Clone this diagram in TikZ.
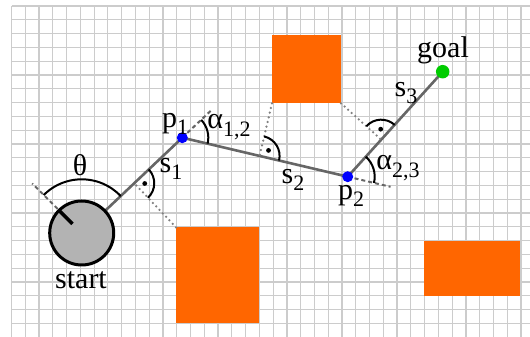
\documentclass[tikz,border=0pt]{standalone}
\usepackage{fontspec}
\setmainfont{Liberation Serif}
\usetikzlibrary{calc}
\definecolor{obst}{HTML}{FF6600}
\definecolor{gridc}{HTML}{CCCCCC}
\definecolor{pathc}{HTML}{666666}
\definecolor{dotc}{HTML}{808080}
\definecolor{goalc}{HTML}{00CC00}
\definecolor{robotc}{HTML}{B3B3B3}
\newcommand{\lsub}[1]{\raisebox{-0.25em}{\fontsize{22}{22}\selectfont #1}}
\pgfdeclarelayer{gridlayer}
\pgfdeclarelayer{seglayer}
\pgfsetlayers{gridlayer,seglayer,main}
\tikzset{
  gridline/.style={draw=gridc, line width=1.2pt},
  segline/.style={draw=pathc, line width=2.6pt},
  extline/.style={draw=pathc, line width=2pt, dash pattern=on 4pt off 3pt},
  dotline/.style={draw=dotc, line width=2.5pt, line cap=round, dash pattern=on 0pt off 4.8pt},
  marc/.style={draw=black, line width=2pt},
  bluedot/.style={circle, fill=blue, inner sep=0pt, minimum size=11pt},
  greendot/.style={circle, fill=goalc, inner sep=0pt, minimum size=13.5pt},
  robot/.style={circle, draw=black, fill=robotc, line width=3pt, inner sep=0pt, minimum size=64pt},
  lbl/.style={inner sep=0pt, font=\fontsize{30}{32}\selectfont},
  obstacle/.style={fill=obst}
}
\begin{document}
\begin{tikzpicture}[x=1pt,y=1pt]
\begin{pgfonlayer}{gridlayer}
\useasboundingbox (0,0) rectangle (530,337);
\fill[white] (0,0) rectangle (530,337);
\foreach \i in {0,...,37} \draw[gridline] ({11.5+13.77*\i},0) -- ({11.5+13.77*\i},331);
\foreach \j in {0,...,23} \draw[gridline] (11.5,{331-13.8*\j}) -- (530,{331-13.8*\j});
\end{pgfonlayer}
% obstacles
\fill[obstacle] (272,233.7) rectangle (341,302.3);
\fill[obstacle] (176,13.7) rectangle (259,109.7);
\fill[obstacle] (423.7,41.3) rectangle (520,96.3);
\coordinate (Bc) at (176,109.7);
\coordinate (Al) at (272,233.7);
\coordinate (Ar) at (341,233.7);
% key points
\coordinate (C) at (81.7,104);
\coordinate (P1) at (182.3,199.3);
\coordinate (P2) at (347.7,160.3);
\coordinate (G) at (442.7,265.3);
\coordinate (F1) at ($(C)!(Bc)!(P1)$);
\coordinate (F2) at ($(P1)!(Al)!(P2)$);
\coordinate (F3) at ($(P2)!(Ar)!(G)$);
% dotted distances
\draw[dotline] (Bc) -- (F1);
\draw[dotline] (Al) -- (F2);
\draw[dotline] (Ar) -- (F3);
% extensions
\draw[extline] (P1) -- ($(P1)+(43.45:40)$);
\draw[extline] (P2) -- ($(P2)+(-13.27:44)$);
\draw[extline] ($(C)+(135:34)$) -- ($(C)+(135:70)$);
% robot and way points
\node[robot] (start) at (C) {};
\draw[line width=3.5pt] ($(C)+(135:13)$) -- ($(C)+(135:32)$);
\node[bluedot] (p1) at (P1) {};
\node[bluedot] (p2) at (P2) {};
\node[greendot] (goal) at (G) {};
% path segments
\begin{pgfonlayer}{seglayer}
\draw[segline] (start.center) -- (p1.center);
\draw[segline] (p1.center) -- (p2.center);
\draw[segline] (p2.center) -- (goal.center);
\end{pgfonlayer}
% angle arcs
\draw[marc] ($(C)+(43.45:53.7)$) arc[start angle=43.45, end angle=135, radius=53.7];
\draw[marc] ($(P1)+(43.45:26)$) arc[start angle=43.45, end angle=-13.27, radius=26];
\draw[marc] ($(P2)+(-13.27:27)$) arc[start angle=-13.27, end angle=47.86, radius=27];
% right angle marks
\draw[marc] ($(F1)+(43.45:20)$) arc[start angle=43.45, end angle=-46.55, radius=20];
\fill ($(F1)+(-1.55:10.5)$) circle (2.4);
\draw[marc] ($(F2)+(-13.27:20)$) arc[start angle=-13.27, end angle=76.73, radius=20];
\fill ($(F2)+(31.73:10.5)$) circle (2.4);
\draw[marc] ($(F3)+(47.86:20)$) arc[start angle=47.86, end angle=137.86, radius=20];
\fill ($(F3)+(92.86:10.5)$) circle (2.4);
% labels
\node[lbl] (lp1) at (175,213) {p\lsub{1}};
\node[lbl] (la12) at (229,210) {α\lsub{1,2}};
\node[lbl] (ls1) at (171,168) {s\lsub{1}};
\node[lbl] (ls2) at (293,157) {s\lsub{2}};
\node[lbl] (ls3) at (406,244) {s\lsub{3}};
\node[lbl] (la23) at (398,169) {α\lsub{2,3}};
\node[lbl] (lp2) at (351,141) {p\lsub{2}};
\node[lbl] (lgoal) at (443,287) {goal};
\node[lbl] (lstart) at (81,57) {start};
\node[lbl] (lth) at (80,172) {θ};
\end{tikzpicture}
\end{document}
